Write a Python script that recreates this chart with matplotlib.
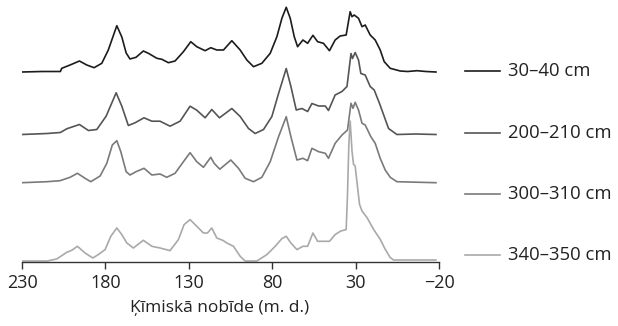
import matplotlib

matplotlib.use("Agg")
import matplotlib.pyplot as plt  # noqa: E402
from matplotlib.lines import Line2D  # noqa: E402

plt.rcParams["font.family"] = ["Open Sans", "DejaVu Sans"]

# spettri: chemical shift (ppm) e intensità (unità arbitrarie)
ppm_30_40 = [230, 218, 207, 206.2, 201.2, 195.6, 191.2, 186.8, 182.2, 178.3, 173.2, 170.2,
             167.6, 165.3, 161.7, 157.3, 154.3, 149.2, 146.2, 142.3, 138.3, 133.3, 128.9,
             125.3, 120.3, 116.9, 113.3, 109.3, 104.3, 99.3, 95.3, 91.3, 86.3, 81.3, 77.3,
             74.3, 71.7, 69.3, 66.9, 64.9, 61.7, 58.9, 55.7, 52.9, 49.4, 45.8, 42.4, 39.4,
             35.8, 33.4, 32.3, 31.0, 28.4, 26.3, 24.4, 21.4, 18.4, 15.4, 13.0, 9.4, 3.4,
             -1, -6.6, -12, -18]
int_30_40 = [0, 0.5, 0.5, 3.7, 7, 11, 7, 4.3, 8.7, 22, 46.3, 35, 19, 13, 14.7, 21, 18.7,
             13.7, 12.7, 9.3, 11, 20.3, 30.3, 25.3, 21.3, 24.3, 22, 22, 31.3, 22, 12, 5.3,
             8.7, 18.7, 35.3, 53.7, 64.7, 53.7, 35.3, 25.3, 32, 28.7, 36.7, 30.3, 28.7,
             21.3, 32, 36, 37, 60.3, 55.3, 57, 53.7, 45.3, 47, 37, 32, 22, 10.3, 3.7, 1,
             0.5, 1.3, 0.5, 0]

ppm_200_210 = [230, 215, 207, 203.2, 195.6, 190.2, 185.2, 179.6, 173.6, 170.2, 166.3,
               162.3, 156.9, 152.2, 147.3, 141.3, 135.3, 129.3, 125.3, 120.3, 116.3, 111.7,
               104.3, 99.3, 94.3, 90.3, 85.3, 80.3, 76.3, 71.7, 68.9, 65.7, 62.3, 58.9,
               56.3, 52.3, 48.3, 46.4, 42.4, 38.3, 35.3, 32.9, 32.0, 30.4, 28.4, 27.0,
               24.4, 21.4, 19.0, 15.8, 13.0, 10.4, 5.4, -6, -18]
int_200_210 = [0, 1, 2, 5.7, 10, 4, 5, 18.3, 41.7, 28.3, 9, 11.7, 16.7, 13.3, 13.3, 8.3,
               13.3, 28.3, 24.3, 16.7, 25, 16.7, 26, 18, 6, 1, 5, 18, 41, 66, 48, 24.5, 26,
               23, 31, 28.5, 28.5, 24, 39.5, 43, 48, 81, 76, 82, 74.5, 61, 59.5, 48, 44.5,
               31, 18, 6, 0, 0.5, 0]

ppm_300_310 = [230, 215, 207.2, 201.2, 196.8, 192.2, 188.8, 183.2, 179.2, 175.9, 173.2,
               170.8, 167.6, 165.3, 161.7, 156.9, 152.2, 147.3, 143.3, 138.3, 133.3, 129.3,
               125.3, 121.3, 116.9, 114.9, 111.5, 104.9, 100.3, 96.3, 91.3, 86.3, 81.3,
               76.3, 71.7, 68.9, 65.3, 61.7, 58.9, 56.3, 52.3, 48.3, 46.4, 42.4, 38.3,
               35.0, 32.9, 31.7, 30.4, 28.4, 26.3, 24.4, 21.0, 18.4, 15.4, 12.4, 9.4, 5.4,
               -6, -18]
int_300_310 = [0, 1, 2, 5.4, 9.4, 4.4, 1, 6.7, 19.4, 37.7, 42, 31, 11, 7.7, 11, 14.4, 7.7,
               8.7, 5.4, 9.4, 21, 30, 21, 15.4, 25.4, 19.4, 13.5, 22.7, 14.4, 4.4, 1, 5.4,
               21, 46, 66, 46, 22.7, 24.4, 22, 34.4, 31, 29.4, 24.4, 39.4, 47.7, 52.7,
               79.4, 74.4, 80.4, 72.7, 59.4, 57.7, 46, 39.4, 24.4, 12.7, 5.4, 1, 0.5, 0]

ppm_340_350 = [230, 215, 209.2, 203.2, 200.2, 196.8, 192.2, 187.6, 184.3, 180.2, 176.8,
               173.2, 170.2, 167.2, 163.3, 157.3, 152.2, 147.3, 141.3, 136.3, 132.9, 129.3,
               125.3, 121.3, 118.9, 116.3, 113.3, 109.5, 107.3, 103.3, 99.3, 96.3, 89.3,
               83.3, 78.3, 74.3, 71.7, 68.9, 65.3, 61.7, 58.9, 55.7, 52.9, 49.4, 45.8,
               42.4, 39.0, 35.8, 35.0, 34.2, 33.4, 32.3, 31.4, 30.4, 29.4, 27.8, 26.3,
               23.3, 19.4, 15.4, 12.4, 9.4, 7.4, -6, -18]
int_340_350 = [0, 0, 2, 8.7, 10.7, 14.7, 8, 3, 6.4, 11.4, 24.7, 33, 26.4, 18, 13, 20.7,
               14.7, 13, 10.4, 21.4, 36.4, 41.4, 34.7, 28, 28, 33, 23, 20.5, 18, 14.7, 4.7,
               0, 0, 6.4, 14.7, 22.4, 24.7, 18, 11.4, 14.7, 14.7, 28, 19.7, 19.7, 19.7,
               26.4, 30, 31.4, 66.4, 116, 140, 110, 96.7, 95, 80, 56.7, 50, 43.4, 31.7,
               21.7, 11.7, 3.4, 1, 1, 1]

labels = ["30–40 cm", "200–210 cm", "300–310 cm", "340–350 cm"]
x_ticks = [230, 180, 130, 80, 30, -20]
x_tick_labels = ["230", "180", "130", "80", "30", "−20"]

series = [
    (ppm_30_40, int_30_40, 189.5, "#1c1c1c"),
    (ppm_200_210, int_200_210, 127.0, "#555555"),
    (ppm_300_310, int_300_310, 78.8, "#7a7a7a"),
    (ppm_340_350, int_340_350, 0.5, "#a9a9a9"),
]

W, H = 618, 326
fig = plt.figure(figsize=(W / 100, H / 100), dpi=100)
ax = fig.add_axes([22 / W, (H - 261.5) / H, (439.3 - 22) / W, 261.5 / H])

for (x, y, off, color), label in zip(series, labels):
    ax.plot(x, [v + off for v in y], color=color, linewidth=1.2, label=label)

ax.set_xlim(230, -20)
ax.set_ylim(0, 261.5)
ax.set_xticks(x_ticks)
ax.set_xticklabels(x_tick_labels)
ax.set_yticks([])
for side in ("left", "right", "top"):
    ax.spines[side].set_visible(False)
ax.spines["bottom"].set_linewidth(1.0)
ax.spines["bottom"].set_color("#333333")
ax.tick_params(axis="x", direction="out", length=5, width=1.0, color="#333333",
               labelsize=13, pad=4, labelcolor="#222222")

fig.text(220 / W, 1 - 308 / H, "Ķīmiskā nobīde (m. d.)", ha="center", va="center",
         fontsize=12.5, color="#222222")

# legenda a destra, allineata alla linea di base di ogni spettro
legend_y = [71, 132.7, 194, 255]
for (x, y, off, color), label, ly in zip(series, labels, legend_y):
    fy = 1 - ly / H
    fig.add_artist(Line2D([465 / W, 500 / W], [fy, fy], color=color, linewidth=1.2,
                          transform=fig.transFigure))
    fig.text(508 / W, fy, label, ha="left", va="center", fontsize=13.3, color="#222222")

fig.savefig("out.png", dpi=100)
